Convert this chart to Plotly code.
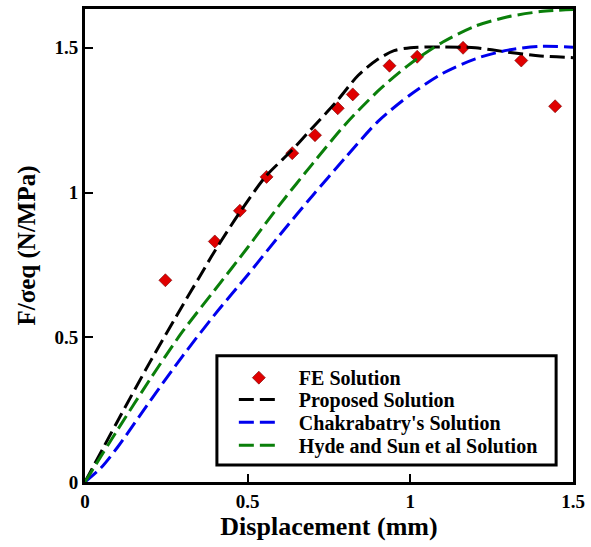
import plotly.graph_objects as go

# FE results (displacement in mm, F/σeq in N/MPa)
fe_x = [0.247, 0.399, 0.476, 0.558, 0.637, 0.707, 0.777, 0.823, 0.936, 1.021, 1.162, 1.341, 1.445]
fe_y = [0.697, 0.831, 0.937, 1.054, 1.136, 1.198, 1.291, 1.339, 1.438, 1.469, 1.500, 1.456, 1.298]

# Proposed solution
prop_x = [0, 0.1, 0.2, 0.3, 0.35, 0.4, 0.475, 0.555, 0.635, 0.7, 0.77, 0.84, 0.9, 0.95, 1.0, 1.1, 1.2, 1.3, 1.4, 1.5]
prop_y = [0, 0.21, 0.415, 0.61, 0.705, 0.80, 0.93, 1.055, 1.145, 1.225, 1.31, 1.405, 1.46, 1.49, 1.50, 1.503, 1.50, 1.485, 1.472, 1.466]

# Chakrabatry's solution
chak_x = [0, 0.05, 0.1, 0.2, 0.3, 0.4, 0.5, 0.6, 0.7, 0.8, 0.9, 1.0, 1.1, 1.2, 1.3, 1.4, 1.5]
chak_y = [0, 0.05, 0.12, 0.28, 0.435, 0.58, 0.715, 0.855, 0.99, 1.12, 1.245, 1.338, 1.412, 1.462, 1.492, 1.505, 1.502]

# Hyde and Sun et al solution
hyde_x = [0, 0.1, 0.2, 0.3, 0.4, 0.5, 0.6, 0.7, 0.8, 0.9, 1.0, 1.1, 1.2, 1.3, 1.4, 1.5]
hyde_y = [0, 0.18, 0.355, 0.52, 0.665, 0.81, 0.96, 1.10, 1.235, 1.35, 1.445, 1.52, 1.575, 1.607, 1.625, 1.632]

x_ticks = [0, 0.5, 1, 1.5]
x_tick_text = ["0", "0.5", "1", "1.5"]
y_ticks = [0, 0.5, 1, 1.5]
y_tick_text = ["0", "0.5", "1", "1.5"]

FONT = "Liberation Serif"
DASH = "15px,6px"
PAD = "\u00a0\u00a0\u00a0"

fig = go.Figure()

fig.add_trace(go.Scatter(
    x=fe_x, y=fe_y, mode="markers", name=PAD + "FE Solution", legend="legend",
    marker=dict(symbol="diamond", size=10, color="#e00000",
                line=dict(color="#700000", width=0.6)),
))
fig.add_trace(go.Scatter(
    x=prop_x, y=prop_y, mode="lines", name=PAD + "Proposed Solution", legend="legend2",
    line=dict(color="black", width=3, dash=DASH, shape="spline", smoothing=0.8),
))
fig.add_trace(go.Scatter(
    x=chak_x, y=chak_y, mode="lines", name=PAD + "Chakrabatry's Solution", legend="legend3",
    line=dict(color="#0000ee", width=3, dash=DASH, shape="spline", smoothing=0.8),
))
fig.add_trace(go.Scatter(
    x=hyde_x, y=hyde_y, mode="lines", name=PAD + "Hyde and Sun et al Solution", legend="legend4",
    line=dict(color="#0a7f0a", width=3, dash=DASH, shape="spline", smoothing=0.8),
))

# frame around the legend entries
fig.add_shape(type="rect", xref="paper", yref="paper",
              x0=0.2703, x1=0.9654, y0=0.0357, y1=0.2668,
              line=dict(color="black", width=3), fillcolor="rgba(0,0,0,0)")


def legend_row(ypos):
    return dict(
        x=0.305, y=ypos, xanchor="left", yanchor="middle",
        bgcolor="rgba(0,0,0,0)", borderwidth=0,
        font=dict(family=FONT, size=20, color="black", weight="bold"),
        itemwidth=40,
    )


tick_font = dict(family=FONT, size=19, color="black", weight="bold")
title_font = dict(family=FONT, size=25, color="black", weight="bold")

fig.update_layout(
    width=591, height=547,
    margin=dict(l=85, r=14, t=6, b=65),
    paper_bgcolor="white", plot_bgcolor="white",
    font=dict(family=FONT, color="black", weight="bold"),
    showlegend=True,
    legend=legend_row(0.2206),
    legend2=legend_row(0.1744),
    legend3=legend_row(0.1261),
    legend4=legend_row(0.0777),
    xaxis=dict(
        range=[0, 1.5], tickvals=x_ticks, ticktext=x_tick_text,
        showgrid=False, zeroline=False,
        showline=True, linecolor="black", linewidth=3, mirror=True,
        ticks="inside", ticklen=8, tickwidth=2, tickcolor="black",
        tickfont=tick_font,
        title=dict(text="Displacement (mm)", standoff=6,
                   font=dict(family=FONT, size=26, color="black", weight="bold")),
    ),
    yaxis=dict(
        range=[0, 1.634], tickvals=y_ticks, ticktext=y_tick_text,
        showgrid=False, zeroline=False,
        showline=True, linecolor="black", linewidth=3, mirror=True,
        ticks="inside", ticklen=8, tickwidth=2, tickcolor="black",
        tickfont=tick_font,
        title=dict(text="F/σeq (N/MPa)", standoff=12, font=title_font),
    ),
)

fig.write_html("out.html")
